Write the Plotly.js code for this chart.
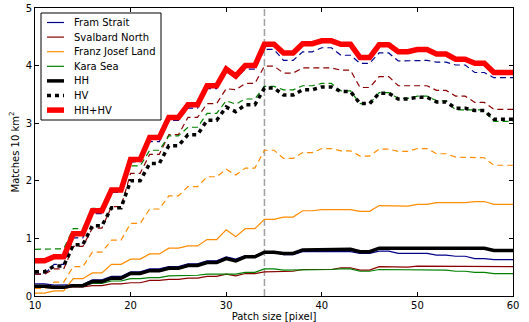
<!DOCTYPE html>
<html><head><meta charset="utf-8">
<script src="https://cdn.plot.ly/plotly-3.0.1.min.js"></script>
<style>html,body{margin:0;padding:0;background:#fff;} #chart{width:529px;height:322px;}</style>
</head><body><div id="chart"></div>
<script>
const patchSize = [10,11,12,13,14,15,16,17,18,19,20,21,22,23,24,25,26,27,28,29,30,31,32,33,34,35,36,37,38,39,40,41,42,43,44,45,46,47,48,49,50,51,52,53,54,55,56,57,58,59,60];

const framHH = [0.21,0.21,0.19,0.19,0.20,0.20,0.28,0.28,0.34,0.34,
  0.42,0.42,0.47,0.47,0.51,0.51,0.56,0.56,0.61,0.61,
  0.68,0.64,0.70,0.70,0.77,0.77,0.72,0.72,0.77,0.77,
  0.78,0.78,0.77,0.77,0.74,0.74,0.78,0.78,0.74,0.74,
  0.74,0.74,0.71,0.71,0.69,0.69,0.65,0.65,0.63,0.63,0.63];
const svalbardHH = [0.15,0.15,0.13,0.13,0.16,0.16,0.18,0.18,0.21,0.21,
  0.23,0.23,0.27,0.27,0.29,0.29,0.31,0.31,0.34,0.34,
  0.38,0.35,0.39,0.39,0.42,0.42,0.43,0.43,0.46,0.46,
  0.46,0.46,0.49,0.49,0.45,0.45,0.51,0.51,0.50,0.50,
  0.52,0.52,0.52,0.52,0.52,0.52,0.52,0.52,0.51,0.51,0.51];
const franzHH = [0.05,0.05,0.09,0.09,0.30,0.30,0.40,0.40,0.55,0.55,
  0.64,0.64,0.73,0.73,0.83,0.83,0.87,0.87,0.98,0.98,
  1.15,1.03,1.17,1.17,1.33,1.33,1.37,1.37,1.48,1.48,
  1.50,1.50,1.50,1.50,1.47,1.47,1.57,1.57,1.56,1.56,
  1.59,1.59,1.62,1.62,1.62,1.62,1.64,1.64,1.59,1.59,1.59];
const karaHH = [0.17,0.17,0.15,0.15,0.18,0.18,0.22,0.22,0.26,0.26,
  0.30,0.30,0.32,0.32,0.35,0.35,0.36,0.36,0.38,0.38,
  0.39,0.38,0.41,0.41,0.47,0.47,0.45,0.45,0.46,0.46,
  0.46,0.46,0.47,0.47,0.43,0.43,0.46,0.46,0.46,0.46,
  0.46,0.46,0.45,0.45,0.43,0.43,0.41,0.41,0.39,0.39,0.39];

const framHV = [0.38,0.38,0.55,0.55,1.01,1.01,1.43,1.43,1.80,1.80,
  2.33,2.33,2.68,2.68,3.05,3.05,3.26,3.26,3.60,3.60,
  3.90,3.78,3.94,3.94,4.28,4.28,4.09,4.09,4.24,4.24,
  4.31,4.31,4.18,4.18,4.04,4.04,4.22,4.22,4.08,4.08,
  4.09,4.09,4.06,4.06,4.01,4.01,3.88,3.88,3.79,3.79,3.79];
const svalbardHV = [0.38,0.38,0.47,0.47,0.86,0.86,1.18,1.18,1.55,1.55,
  2.13,2.13,2.46,2.46,2.80,2.80,3.10,3.10,3.34,3.34,
  3.60,3.58,3.69,3.69,3.99,3.99,3.87,3.87,3.96,3.96,
  3.96,3.96,3.92,3.92,3.62,3.62,3.81,3.81,3.65,3.65,
  3.65,3.65,3.57,3.57,3.47,3.47,3.36,3.36,3.24,3.24,3.24];
const franzHV = [0.13,0.13,0.24,0.24,0.51,0.51,0.76,0.76,0.97,0.97,
  1.26,1.26,1.51,1.51,1.74,1.74,1.90,1.90,2.07,2.07,
  2.20,2.10,2.22,2.22,2.53,2.53,2.39,2.39,2.49,2.49,
  2.56,2.56,2.52,2.52,2.43,2.43,2.55,2.55,2.51,2.51,
  2.56,2.56,2.47,2.47,2.41,2.41,2.40,2.40,2.27,2.27,2.27];
const karaHV = [0.81,0.81,0.82,0.82,1.17,1.17,1.52,1.52,1.81,1.81,
  2.26,2.26,2.53,2.53,2.78,2.78,2.93,2.93,3.17,3.17,
  3.39,3.33,3.42,3.42,3.64,3.64,3.58,3.58,3.65,3.65,
  3.69,3.69,3.56,3.56,3.34,3.34,3.53,3.53,3.43,3.43,
  3.47,3.47,3.39,3.39,3.23,3.23,3.23,3.23,3.03,3.03,3.03];

const meanHH = [0.17,0.17,0.15,0.15,0.18,0.18,0.25,0.25,0.31,0.31,
  0.39,0.39,0.44,0.44,0.48,0.48,0.53,0.53,0.58,0.58,
  0.65,0.61,0.68,0.68,0.76,0.76,0.74,0.74,0.80,0.80,
  0.81,0.81,0.81,0.81,0.77,0.77,0.83,0.83,0.82,0.82,
  0.83,0.83,0.83,0.83,0.83,0.83,0.83,0.83,0.79,0.79,0.79];
const meanHV = [0.42,0.42,0.52,0.52,0.89,0.89,1.22,1.22,1.53,1.53,
  2.00,2.00,2.30,2.30,2.61,2.61,2.80,2.80,3.05,3.05,
  3.28,3.20,3.32,3.32,3.61,3.61,3.49,3.49,3.58,3.58,
  3.63,3.63,3.55,3.55,3.34,3.34,3.52,3.52,3.42,3.42,
  3.45,3.45,3.37,3.37,3.26,3.26,3.22,3.22,3.07,3.07,3.07];
const combinedHHHV = [0.61,0.61,0.68,0.68,1.08,1.08,1.48,1.48,1.84,1.84,
  2.37,2.37,2.75,2.75,3.10,3.10,3.32,3.32,3.65,3.65,
  3.94,3.82,4.00,4.00,4.37,4.37,4.22,4.22,4.38,4.38,
  4.43,4.43,4.37,4.37,4.14,4.14,4.36,4.36,4.24,4.24,
  4.28,4.28,4.20,4.20,4.11,4.11,4.04,4.04,3.88,3.88,3.88];

const regionNames = ["Fram Strait", "Svalbard North", "Franz Josef Land", "Kara Sea"];
const legendLabels = ["Fram Strait", "Svalbard North", "Franz Josef Land", "Kara Sea", "HH", "HV", "HH+HV"];
const xTicks = [10, 20, 30, 40, 50, 60];
const yTicks = [0, 1, 2, 3, 4, 5];
const cutoffPatch = 34;

const regionHH = [framHH, svalbardHH, franzHH, karaHH];
const regionHV = [framHV, svalbardHV, franzHV, karaHV];
const regionColors = ["#00008b", "#8b0000", "#ff8c00", "#008000"];

const FONT = "DejaVu Sans, Liberation Sans, sans-serif";
const thinDash = "6px,4px";
const styles = [
  {color: regionColors[0], width: 1.2},
  {color: regionColors[1], width: 1.2},
  {color: regionColors[2], width: 1.2},
  {color: regionColors[3], width: 1.2},
  {color: "#000", width: 3.5},
  {color: "#000", width: 3.5, dash: "4px,4px"},
  {color: "#ff0000", width: 5.5}
];

const traces = [];
for (let i = 0; i < 4; i++) {
  traces.push({x: patchSize, y: regionHH[i], type: "scatter", mode: "lines",
    name: regionNames[i] + " HH", line: {color: regionColors[i], width: 1.2}, hoverinfo: "skip"});
  traces.push({x: patchSize, y: regionHV[i], type: "scatter", mode: "lines",
    name: regionNames[i] + " HV", line: {color: regionColors[i], width: 1.2, dash: thinDash}, hoverinfo: "skip"});
}
traces.push({x: patchSize, y: meanHH, type: "scatter", mode: "lines", name: "HH", line: styles[4]});
traces.push({x: patchSize, y: meanHV, type: "scatter", mode: "lines", name: "HV", line: styles[5]});
traces.push({x: patchSize, y: combinedHHHV, type: "scatter", mode: "lines", name: "HH+HV", line: styles[6]});

const W = 529, H = 322, M = {l: 35, r: 16, t: 8, b: 26};
const pw = W - M.l - M.r, ph = H - M.t - M.b;
const px2x = p => (p - M.l) / pw;
const py2y = p => (H - M.b - p) / ph;

const shapes = [
  {type: "line", xref: "x", yref: "paper", x0: cutoffPatch, x1: cutoffPatch, y0: 0, y1: 1,
   line: {color: "#a0a0a0", width: 1.5, dash: "7px,3px"}, layer: "below"},
  {type: "rect", xref: "paper", yref: "paper", x0: px2x(41), x1: px2x(161), y0: py2y(120), y1: py2y(13),
   line: {color: "#000", width: 1}, fillcolor: "#fff", layer: "above"}
];
const annotations = [];
legendLabels.forEach((lab, i) => {
  const yc = 22.5 + 14.6 * i;
  const st = styles[i];
  shapes.push({type: "line", xref: "paper", yref: "paper", x0: px2x(47), x1: px2x(64), y0: py2y(yc), y1: py2y(yc),
    line: {color: st.color, width: st.width, dash: st.dash || "solid"}, layer: "above"});
  annotations.push({xref: "paper", yref: "paper", x: px2x(72), y: py2y(yc), xanchor: "left", yanchor: "middle",
    text: lab, showarrow: false, font: {family: FONT, size: 10, color: "#000"}});
});

const axisCommon = {
  showgrid: false, zeroline: false, showline: true, linecolor: "#000", linewidth: 1,
  mirror: "ticks", ticks: "inside", ticklen: 4, tickwidth: 1, tickcolor: "#000",
  tickfont: {family: FONT, size: 10, color: "#000"}
};

const layout = {
  width: W, height: H, margin: M,
  paper_bgcolor: "#fff", plot_bgcolor: "#fff",
  showlegend: false,
  font: {family: FONT, size: 10, color: "#000"},
  xaxis: Object.assign({}, axisCommon, {range: [10, 60], tickvals: xTicks, ticktext: xTicks.map(String),
    title: {text: "Patch size [pixel]", font: {family: FONT, size: 10, color: "#000"}, standoff: 2}}),
  yaxis: Object.assign({}, axisCommon, {range: [0, 5], tickvals: yTicks, ticktext: yTicks.map(String),
    title: {text: "Matches 10 km<sup>2</sup>", font: {family: FONT, size: 10, color: "#000"}, standoff: 4}}),
  shapes: shapes,
  annotations: annotations
};

Plotly.newPlot("chart", traces, layout, {staticPlot: true, displayModeBar: false});
</script>
</body></html>
